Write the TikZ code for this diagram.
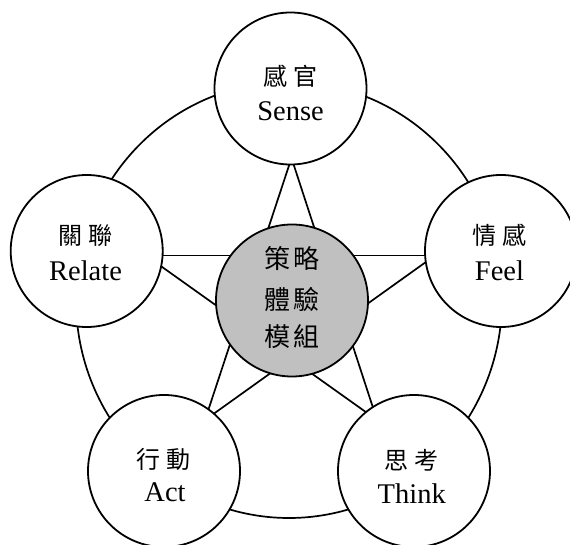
\documentclass[tikz,border=0pt]{standalone}
\usepackage{fontspec}
\setmainfont{Liberation Serif}
\newfontfamily\cjk{Noto Sans CJK TC}
\begin{document}
\begin{tikzpicture}[x=1pt,y=-1pt,
  outer/.style={circle,draw,line width=1.8pt,fill=white,minimum size=152pt,inner sep=0pt,outer sep=0pt},
  hub/.style={outer,fill=hubgray},
  starline/.style={line width=1.7pt},
  ring/.style={line width=1.7pt},
  zh/.style={inner sep=0pt,anchor=center,font=\cjk\fontsize{24}{24}\selectfont},
  zhc/.style={inner sep=0pt,anchor=center,font=\cjk\fontsize{26}{26}\selectfont},
  en/.style={inner sep=0pt,anchor=base,font=\fontsize{28.5}{28.5}\selectfont}]
\definecolor{hubgray}{HTML}{C0C0C0}
\clip (0,0) rectangle (570,545);
\fill[white] (0,0) rectangle (570,545);
% outer ring
\draw[ring] (289,300) ellipse [x radius=213pt, y radius=218pt];
% star vertices
\coordinate (pT) at (291.5,158);
\coordinate (pL) at (146,255.5);
\coordinate (pR) at (435,255.5);
\coordinate (pBL) at (205,420);
\coordinate (pBR) at (377,420);
\draw[starline] (pT) -- (pBL);
\draw[starline] (pT) -- (pBR);
\draw[starline] (pL) -- (pR);
\draw[starline] (pL) -- (pBR);
\draw[starline] (pR) -- (pBL);
% circles
\node[outer] (sense) at (290.5,88.5) {};
\node[outer] (feel) at (501,251) {};
\node[outer] (relate) at (86.7,251) {};
\node[outer] (act) at (164,471) {};
\node[outer] (think) at (414,471) {};
\node[hub] (hub) at (292,300.5) {};
% labels
\node[zh] (senseZ) at (290.5,76) {感\hspace{6pt}官};
\node[en] (senseE) at (290.5,120.7) {Sense};
\node[zh] (feelZ) at (499.3,235) {情\hspace{6pt}感};
\node[en] (feelE) at (499.5,280.7) {Feel};
\node[zh] (relateZ) at (85.5,236) {關\hspace{6pt}聯};
\node[en] (relateE) at (85.5,280.7) {Relate};
\node[zh] (actZ) at (163.3,459) {行\hspace{6pt}動};
\node[en] (actE) at (165,501.7) {Act};
\node[zh] (thinkZ) at (411.7,460) {思\hspace{6pt}考};
\node[en] (thinkE) at (411.7,503) {Think};
\node[zhc] (hub1) at (291.7,259) {策\hspace{3pt}略};
\node[zhc] (hub2) at (291.7,300) {體\hspace{3pt}驗};
\node[zhc] (hub3) at (291.7,337) {模\hspace{3pt}組};
\end{tikzpicture}
\end{document}
